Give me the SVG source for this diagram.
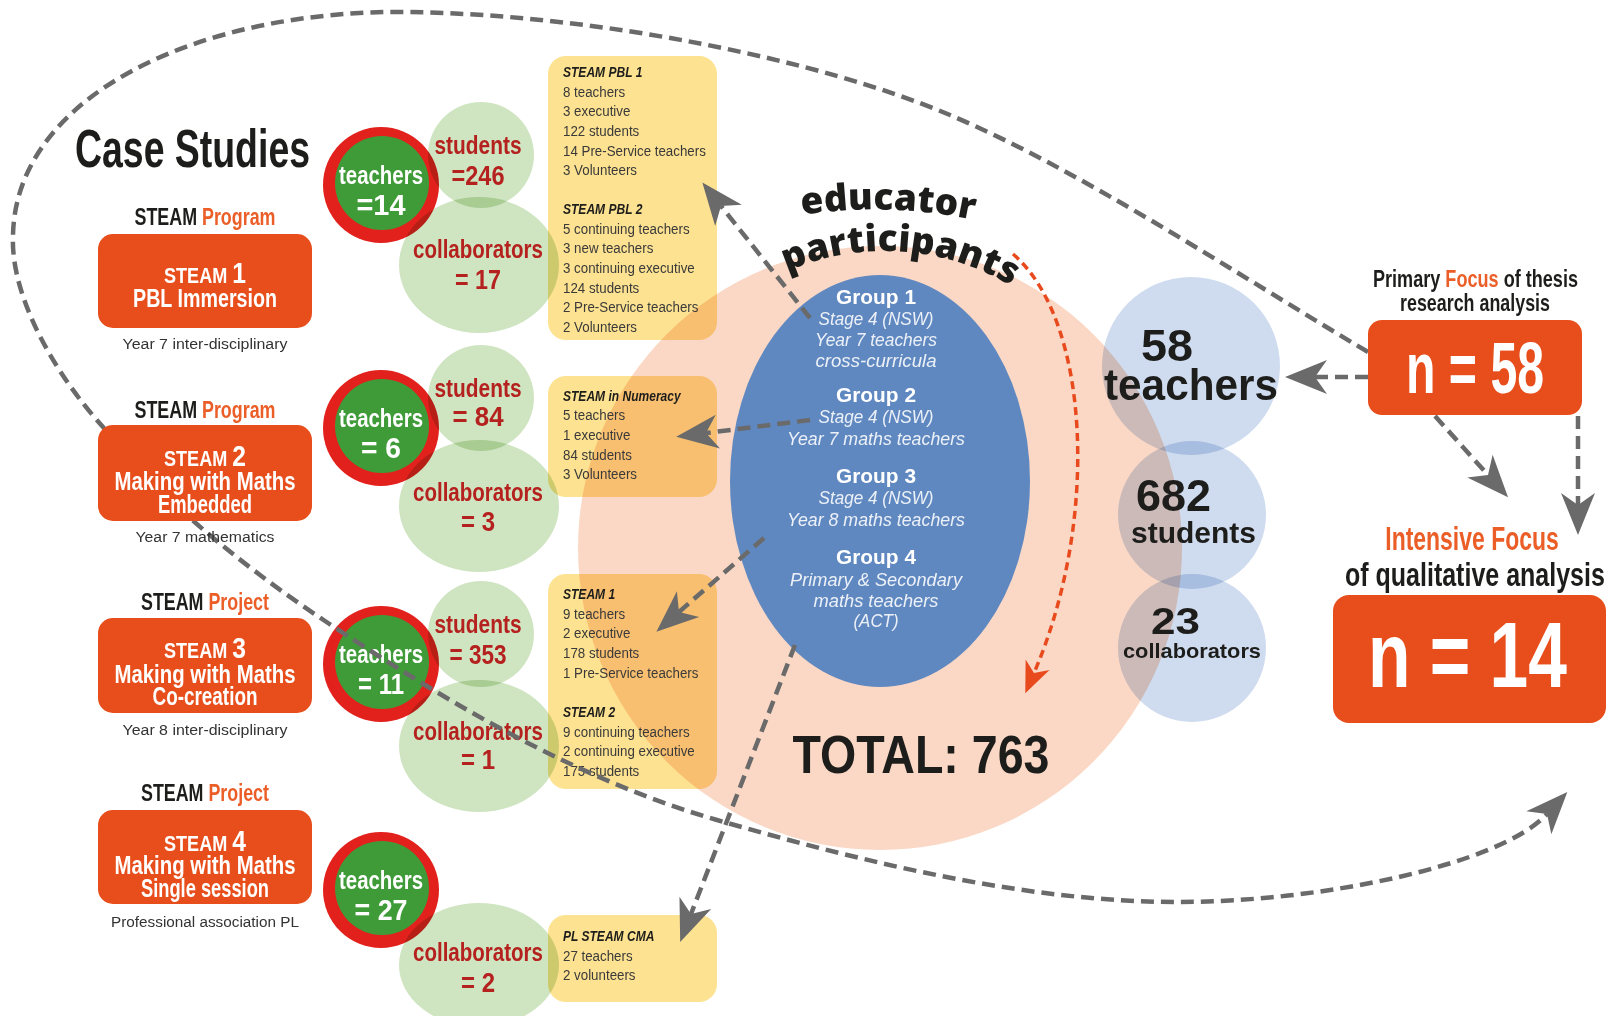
<svg xmlns="http://www.w3.org/2000/svg" width="1607" height="1016" viewBox="0 0 1607 1016">
<defs>
<style>
text{font-family:"Liberation Sans",Arial,Helvetica,sans-serif}
.b{font-weight:700}
.k{fill:#1d1d1b}
.w{fill:#fff}
.o{fill:#eb5e28}
.dr{fill:#b5211e}
.sub{font-size:15.5px;fill:#333}
.box{fill:#e84e1b}
.ring{fill:#e2211c}
.grn{fill:#3f9b38}
.pg{fill:#cfe4c1;mix-blend-mode:multiply}
.yb{fill:#fde291;mix-blend-mode:multiply}
.lb{fill:#cfdcef;mix-blend-mode:multiply}
.peach{fill:#fad8c5;mix-blend-mode:multiply}
.yt{font-size:15.5px;fill:#3a3a3a}
.yh{font-size:14px;font-weight:700;font-style:italic;fill:#1d1d1b}
.gh{font-size:21px;font-weight:700;fill:#fff}
.gi{font-size:19px;font-style:italic;fill:#fff;fill-opacity:0.88}
.dash{fill:none;stroke:#6a6a6a;stroke-width:4.5;stroke-dasharray:13 7}
.rdash{fill:none;stroke:#e84a1d;stroke-width:3.5;stroke-dasharray:8 5}
.arc{font-family:"Open Sans","Noto Sans",sans-serif;font-weight:800;fill:#1d1d1b}
</style>
<marker id="ahGrey" markerUnits="userSpaceOnUse" orient="auto" refX="0" refY="0" markerWidth="60" markerHeight="40" overflow="visible">
<path d="M30,0 L-12,-17 L0,0 L-12,17 Z" fill="#6a6a6a"/>
</marker>
<marker id="ahRed" markerUnits="userSpaceOnUse" orient="auto" refX="0" refY="0" markerWidth="40" markerHeight="30" overflow="visible">
<path d="M22,0 L-9,-13 L0,0 L-9,13 Z" fill="#e84a1d"/>
</marker>
<path id="arcEducator" d="M802,215 A480,480 0 0 1 1100,266"/>
<path id="arcParticipants" d="M787,271.5 A245,245 0 0 1 1110,399"/>
</defs>

<rect width="1607" height="1016" fill="#fff"/>

<!-- educator participants: big peach disc -->
<g id="participants">
<circle class="peach" cx="880" cy="548" r="302"/>
<text class="arc" font-size="37" letter-spacing="0"><textPath href="#arcEducator">educator</textPath></text>
<text class="arc" font-size="37" letter-spacing="0"><textPath href="#arcParticipants">participants</textPath></text>
<text id="total" class="b k" x="921" y="773" font-size="54" text-anchor="middle" textLength="257" lengthAdjust="spacingAndGlyphs">TOTAL: 763</text>
</g>

<!-- detail cards -->
<g id="card-pbl">
<rect class="yb" x="548" y="56" width="169" height="284" rx="18"/>
<g transform="translate(563 0) scale(0.86 1)">
<text class="yh" y="77">STEAM PBL 1</text>
<text class="yt" y="97">8 teachers</text>
<text class="yt" y="116.5">3 executive</text>
<text class="yt" y="136">122 students</text>
<text class="yt" y="156">14 Pre-Service teachers</text>
<text class="yt" y="175.5">3 Volunteers</text>
<text class="yh" y="214">STEAM PBL 2</text>
<text class="yt" y="234">5 continuing teachers</text>
<text class="yt" y="253.5">3 new teachers</text>
<text class="yt" y="273">3 continuing executive</text>
<text class="yt" y="293">124 students</text>
<text class="yt" y="312.5">2 Pre-Service teachers</text>
<text class="yt" y="332">2 Volunteers</text>
</g>
</g>
<g id="card-numeracy">
<rect class="yb" x="548" y="376" width="169" height="121" rx="18"/>
<g transform="translate(563 0) scale(0.86 1)">
<text class="yh" y="401">STEAM in Numeracy</text>
<text class="yt" y="420.5">5 teachers</text>
<text class="yt" y="440">1 executive</text>
<text class="yt" y="460">84 students</text>
<text class="yt" y="479.5">3 Volunteers</text>
</g>
</g>
<g id="card-steam">
<rect class="yb" x="548" y="574" width="169" height="215" rx="18"/>
<g transform="translate(563 0) scale(0.86 1)">
<text class="yh" y="599">STEAM 1</text>
<text class="yt" y="619">9 teachers</text>
<text class="yt" y="638.5">2 executive</text>
<text class="yt" y="658">178 students</text>
<text class="yt" y="678">1 Pre-Service teachers</text>
<text class="yh" y="717">STEAM 2</text>
<text class="yt" y="737">9 continuing teachers</text>
<text class="yt" y="756.5">2 continuing executive</text>
<text class="yt" y="776">175 students</text>
</g>
</g>
<g id="card-cma">
<rect class="yb" x="548" y="915" width="169" height="87" rx="18"/>
<g transform="translate(563 0) scale(0.86 1)">
<text class="yh" y="941">PL STEAM CMA</text>
<text class="yt" y="961">27 teachers</text>
<text class="yt" y="980.5">2 volunteers</text>
</g>
</g>

<!-- educator groups -->
<g id="groups">
<ellipse cx="880" cy="481" rx="150" ry="206" fill="#6088c0"/>
<g transform="translate(876 0)" text-anchor="middle">
<text class="gh" y="304" textLength="80" lengthAdjust="spacingAndGlyphs">Group 1</text>
<text class="gi" y="325" textLength="115" lengthAdjust="spacingAndGlyphs">Stage 4 (NSW)</text>
<text class="gi" y="346" textLength="122" lengthAdjust="spacingAndGlyphs">Year 7 teachers</text>
<text class="gi" y="367" textLength="121" lengthAdjust="spacingAndGlyphs">cross-curricula</text>
<text class="gh" y="402" textLength="80" lengthAdjust="spacingAndGlyphs">Group 2</text>
<text class="gi" y="423" textLength="115" lengthAdjust="spacingAndGlyphs">Stage 4 (NSW)</text>
<text class="gi" y="445" textLength="178" lengthAdjust="spacingAndGlyphs">Year 7 maths teachers</text>
<text class="gh" y="483" textLength="80" lengthAdjust="spacingAndGlyphs">Group 3</text>
<text class="gi" y="504" textLength="115" lengthAdjust="spacingAndGlyphs">Stage 4 (NSW)</text>
<text class="gi" y="526" textLength="178" lengthAdjust="spacingAndGlyphs">Year 8 maths teachers</text>
<text class="gh" y="564" textLength="80" lengthAdjust="spacingAndGlyphs">Group 4</text>
<text class="gi" y="586" textLength="172" lengthAdjust="spacingAndGlyphs">Primary &amp; Secondary</text>
<text class="gi" y="607" textLength="125" lengthAdjust="spacingAndGlyphs">maths teachers</text>
<text class="gi" y="627" textLength="45" lengthAdjust="spacingAndGlyphs">(ACT)</text>
</g>
</g>

<!-- totals -->
<g id="tot-teachers">
<circle class="lb" cx="1191" cy="366" r="89"/>
<text class="b k" x="1141" y="361" font-size="44" textLength="52" lengthAdjust="spacingAndGlyphs">58</text>
<text class="b k" x="1104" y="400" font-size="44" textLength="174" lengthAdjust="spacingAndGlyphs">teachers</text>
</g>
<g id="tot-students">
<circle class="lb" cx="1192" cy="515" r="74"/>
<text class="b k" x="1136" y="511" font-size="44" textLength="75" lengthAdjust="spacingAndGlyphs">682</text>
<text class="b k" x="1131" y="543" font-size="30" textLength="125" lengthAdjust="spacingAndGlyphs">students</text>
</g>
<g id="tot-collab">
<circle class="lb" cx="1192" cy="648" r="74"/>
<text class="b k" x="1151" y="634" font-size="37" textLength="49" lengthAdjust="spacingAndGlyphs">23</text>
<text class="b k" x="1123" y="658" font-size="21" textLength="138" lengthAdjust="spacingAndGlyphs">collaborators</text>
</g>

<!-- teacher counts -->
<g id="t1"><circle class="ring" cx="381" cy="185" r="58"/><circle class="grn" cx="382" cy="183" r="47"/>
<text class="b w" x="381" y="184" font-size="26" text-anchor="middle" textLength="84" lengthAdjust="spacingAndGlyphs">teachers</text>
<text class="b w" x="381" y="215" font-size="30" text-anchor="middle" textLength="49" lengthAdjust="spacingAndGlyphs">=14</text></g>
<g id="t2"><circle class="ring" cx="381" cy="428" r="58"/><circle class="grn" cx="382" cy="426" r="47"/>
<text class="b w" x="381" y="427" font-size="26" text-anchor="middle" textLength="84" lengthAdjust="spacingAndGlyphs">teachers</text>
<text class="b w" x="381" y="458" font-size="30" text-anchor="middle" textLength="40" lengthAdjust="spacingAndGlyphs">= 6</text></g>
<g id="t3"><circle class="ring" cx="381" cy="664" r="58"/><circle class="grn" cx="382" cy="662" r="47"/>
<text class="b w" x="381" y="663" font-size="26" text-anchor="middle" textLength="84" lengthAdjust="spacingAndGlyphs">teachers</text>
<text class="b w" x="381" y="694" font-size="30" text-anchor="middle" textLength="46" lengthAdjust="spacingAndGlyphs">= 11</text></g>
<g id="t4"><circle class="ring" cx="381" cy="890" r="58"/><circle class="grn" cx="382" cy="888" r="47"/>
<text class="b w" x="381" y="889" font-size="26" text-anchor="middle" textLength="84" lengthAdjust="spacingAndGlyphs">teachers</text>
<text class="b w" x="381" y="920" font-size="30" text-anchor="middle" textLength="53" lengthAdjust="spacingAndGlyphs">= 27</text></g>

<!-- student / collaborator counts -->
<g id="s1"><circle class="pg" cx="481" cy="155" r="53"/>
<text class="b dr" x="478" y="154" font-size="26" text-anchor="middle" textLength="87" lengthAdjust="spacingAndGlyphs">students</text>
<text class="b dr" x="478" y="185" font-size="28" text-anchor="middle" textLength="53" lengthAdjust="spacingAndGlyphs">=246</text></g>
<g id="c1"><ellipse class="pg" cx="479" cy="265" rx="80" ry="68"/>
<text class="b dr" x="478" y="258" font-size="26" text-anchor="middle" textLength="130" lengthAdjust="spacingAndGlyphs">collaborators</text>
<text class="b dr" x="478" y="289" font-size="28" text-anchor="middle" textLength="46" lengthAdjust="spacingAndGlyphs">= 17</text></g>
<g id="s2"><circle class="pg" cx="481" cy="398" r="53"/>
<text class="b dr" x="478" y="397" font-size="26" text-anchor="middle" textLength="87" lengthAdjust="spacingAndGlyphs">students</text>
<text class="b dr" x="478" y="426" font-size="28" text-anchor="middle" textLength="51" lengthAdjust="spacingAndGlyphs">= 84</text></g>
<g id="c2"><ellipse class="pg" cx="479" cy="506" rx="80" ry="66"/>
<text class="b dr" x="478" y="501" font-size="26" text-anchor="middle" textLength="130" lengthAdjust="spacingAndGlyphs">collaborators</text>
<text class="b dr" x="478" y="531" font-size="28" text-anchor="middle" textLength="34" lengthAdjust="spacingAndGlyphs">= 3</text></g>
<g id="s3"><circle class="pg" cx="481" cy="634" r="53"/>
<text class="b dr" x="478" y="633" font-size="26" text-anchor="middle" textLength="87" lengthAdjust="spacingAndGlyphs">students</text>
<text class="b dr" x="478" y="664" font-size="28" text-anchor="middle" textLength="57" lengthAdjust="spacingAndGlyphs">= 353</text></g>
<g id="c3"><ellipse class="pg" cx="479" cy="746" rx="80" ry="66"/>
<text class="b dr" x="478" y="740" font-size="26" text-anchor="middle" textLength="130" lengthAdjust="spacingAndGlyphs">collaborators</text>
<text class="b dr" x="478" y="769" font-size="28" text-anchor="middle" textLength="34" lengthAdjust="spacingAndGlyphs">= 1</text></g>
<g id="c4"><ellipse class="pg" cx="479" cy="965" rx="80" ry="62"/>
<text class="b dr" x="478" y="961" font-size="26" text-anchor="middle" textLength="130" lengthAdjust="spacingAndGlyphs">collaborators</text>
<text class="b dr" x="478" y="992" font-size="28" text-anchor="middle" textLength="34" lengthAdjust="spacingAndGlyphs">= 2</text></g>

<!-- connectors -->
<g id="connectors">
<path class="dash" marker-end="url(#ahGrey)" d="M1368,352 C1230,270 1080,170 950,115 C820,60 600,15 410,12 C200,9 16,95 13,235 C10,300 60,380 103,427 C150,490 240,565 328,623 C416,681 560,775 717,820 C874,865 1030,902 1179,902 C1320,902 1500,865 1547,814"/>
<path class="dash" marker-end="url(#ahGrey)" d="M810,318 L721,206"/>
<path class="dash" marker-end="url(#ahGrey)" d="M810,420 L706,433"/>
<path class="dash" marker-end="url(#ahGrey)" d="M764,538 L679,612"/>
<path class="dash" marker-end="url(#ahGrey)" d="M795,645 L691,914"/>
<path class="dash" marker-end="url(#ahGrey)" d="M1368,377 L1315,377"/>
<path class="dash" marker-end="url(#ahGrey)" d="M1435,416 L1488,475"/>
<path class="dash" marker-end="url(#ahGrey)" d="M1578,416 L1578,505"/>
<path class="rdash" marker-end="url(#ahRed)" d="M1013,254 C1090,320 1100,520 1034,673"/>
</g>

<!-- case studies -->
<text id="title" class="b k" x="75" y="167" font-size="54" textLength="235" lengthAdjust="spacingAndGlyphs">Case Studies</text>

<g id="steam1">
<text class="b" x="205" y="225" font-size="23" text-anchor="middle" textLength="141" lengthAdjust="spacingAndGlyphs"><tspan class="k">STEAM </tspan><tspan class="o">Program</tspan></text>
<rect class="box" x="98" y="234" width="214" height="94" rx="15"/>
<text class="b w" x="205" y="283" font-size="22" text-anchor="middle" textLength="82" lengthAdjust="spacingAndGlyphs">STEAM <tspan font-size="30">1</tspan></text>
<text class="b w" x="205" y="307" font-size="25" text-anchor="middle" textLength="144" lengthAdjust="spacingAndGlyphs">PBL Immersion</text>
<text class="sub" x="205" y="349" text-anchor="middle" textLength="165" lengthAdjust="spacingAndGlyphs">Year 7 inter-disciplinary</text>
</g>
<g id="steam2">
<text class="b" x="205" y="418" font-size="23" text-anchor="middle" textLength="141" lengthAdjust="spacingAndGlyphs"><tspan class="k">STEAM </tspan><tspan class="o">Program</tspan></text>
<rect class="box" x="98" y="425" width="214" height="96" rx="15"/>
<text class="b w" x="205" y="466" font-size="22" text-anchor="middle" textLength="82" lengthAdjust="spacingAndGlyphs">STEAM <tspan font-size="30">2</tspan></text>
<text class="b w" x="205" y="490" font-size="25" text-anchor="middle" textLength="181" lengthAdjust="spacingAndGlyphs">Making with Maths</text>
<text class="b w" x="205" y="513" font-size="25" text-anchor="middle" textLength="94" lengthAdjust="spacingAndGlyphs">Embedded</text>
<text class="sub" x="205" y="542" text-anchor="middle" textLength="139" lengthAdjust="spacingAndGlyphs">Year 7 mathematics</text>
</g>
<g id="steam3">
<text class="b" x="205" y="610" font-size="23" text-anchor="middle" textLength="128" lengthAdjust="spacingAndGlyphs"><tspan class="k">STEAM </tspan><tspan class="o">Project</tspan></text>
<rect class="box" x="98" y="618" width="214" height="95" rx="15"/>
<text class="b w" x="205" y="658" font-size="22" text-anchor="middle" textLength="82" lengthAdjust="spacingAndGlyphs">STEAM <tspan font-size="30">3</tspan></text>
<text class="b w" x="205" y="683" font-size="25" text-anchor="middle" textLength="181" lengthAdjust="spacingAndGlyphs">Making with Maths</text>
<text class="b w" x="205" y="705" font-size="25" text-anchor="middle" textLength="105" lengthAdjust="spacingAndGlyphs">Co-creation</text>
<text class="sub" x="205" y="735" text-anchor="middle" textLength="165" lengthAdjust="spacingAndGlyphs">Year 8 inter-disciplinary</text>
</g>
<g id="steam4">
<text class="b" x="205" y="801" font-size="23" text-anchor="middle" textLength="128" lengthAdjust="spacingAndGlyphs"><tspan class="k">STEAM </tspan><tspan class="o">Project</tspan></text>
<rect class="box" x="98" y="810" width="214" height="94" rx="15"/>
<text class="b w" x="205" y="851" font-size="22" text-anchor="middle" textLength="82" lengthAdjust="spacingAndGlyphs">STEAM <tspan font-size="30">4</tspan></text>
<text class="b w" x="205" y="874" font-size="25" text-anchor="middle" textLength="181" lengthAdjust="spacingAndGlyphs">Making with Maths</text>
<text class="b w" x="205" y="897" font-size="25" text-anchor="middle" textLength="128" lengthAdjust="spacingAndGlyphs">Single session</text>
<text class="sub" x="205" y="927" text-anchor="middle" textLength="188" lengthAdjust="spacingAndGlyphs">Professional association PL</text>
</g>

<!-- research focus -->
<g id="primary-focus">
<text class="b" x="1373" y="287" font-size="24" textLength="205" lengthAdjust="spacingAndGlyphs"><tspan class="k">Primary </tspan><tspan class="o">Focus</tspan><tspan class="k"> of thesis</tspan></text>
<text class="b k" x="1475" y="311" font-size="24" text-anchor="middle" textLength="150" lengthAdjust="spacingAndGlyphs">research analysis</text>
<rect class="box" x="1368" y="320" width="214" height="95" rx="14"/>
<text class="b w" transform="translate(1406 393) scale(0.67 1)" font-size="72">n = 58</text>
</g>
<g id="intensive-focus">
<text class="b o" transform="translate(1472 550) scale(0.696 1)" font-size="33" text-anchor="middle">Intensive Focus</text>
<text class="b k" transform="translate(1345 586) scale(0.758 1)" font-size="33">of qualitative analysis</text>
<rect class="box" x="1333" y="595" width="273" height="128" rx="16"/>
<text class="b w" transform="translate(1368 687) scale(0.755 1)" font-size="92">n = 14</text>
</g>
</svg>
